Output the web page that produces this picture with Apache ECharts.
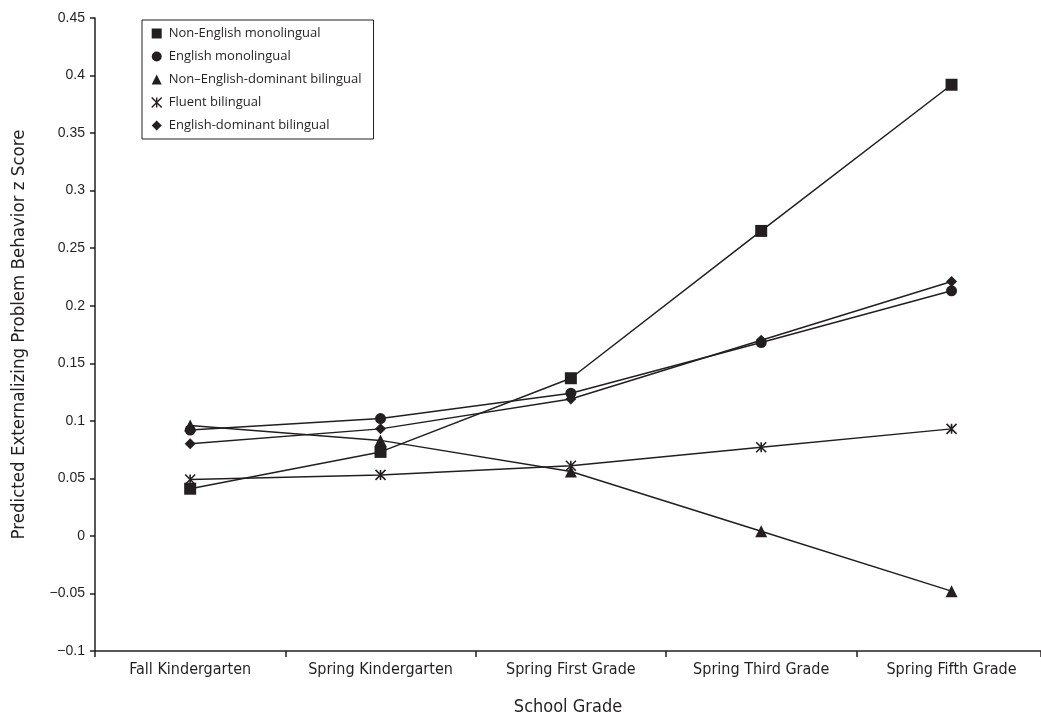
<!DOCTYPE html>
<html>
<head>
<meta charset="utf-8">
<script src="https://cdn.jsdelivr.net/npm/echarts@6/dist/echarts.min.js"></script>
<style>html,body{margin:0;padding:0;background:#fff}#c{width:1041px;height:721px}</style>
</head>
<body>
<div id="c"></div>
<script>
const categories = ['Fall Kindergarten', 'Spring Kindergarten', 'Spring First Grade', 'Spring Third Grade', 'Spring Fifth Grade'];
const seriesNames = ['Non-English monolingual', 'English monolingual', 'Non\u2013English-dominant bilingual', 'Fluent bilingual', 'English-dominant bilingual'];
const nonEnglishMono = [0.041, 0.073, 0.137, 0.265, 0.392];
const englishMono = [0.092, 0.102, 0.124, 0.168, 0.213];
const nonEnglishDomBi = [0.096, 0.083, 0.056, 0.004, -0.048];
const fluentBi = [0.049, 0.053, 0.061, 0.077, 0.093];
const englishDomBi = [0.080, 0.093, 0.119, 0.170, 0.221];
const yTicks = [-0.1, -0.05, 0, 0.05, 0.1, 0.15, 0.2, 0.25, 0.3, 0.35, 0.4, 0.45];

const INK = '#231f20';
const ASTER = 'path://M0,0L10,10M10,0L0,10M5,0L5,10';
const symbols = ['rect', 'circle', 'triangle', ASTER, 'diamond'];
const sizes = [12, 11, 12, 10, 11];
const values = [nonEnglishMono, englishMono, nonEnglishDomBi, fluentBi, englishDomBi];
const NARROW = '"Liberation Sans Narrow", "DejaVu Sans Condensed", sans-serif';
const X_MIN = -0.5, X_MAX = 4.47;

const chart = echarts.init(document.getElementById('c'), null, {renderer: 'canvas'});
const series = values.map((v, i) => ({
  name: seriesNames[i],
  type: 'line',
  xAxisIndex: 0,
  data: v.map((y, k) => [k, y]),
  symbol: symbols[i],
  symbolSize: sizes[i],
  showAllSymbol: true,
  lineStyle: {color: INK, width: 1.5},
  itemStyle: symbols[i] === ASTER
    ? {color: INK, borderColor: INK, borderWidth: 1.6}
    : {color: INK, borderWidth: 0},
  emphasis: {disabled: true},
  animation: false,
  z: 3
}));

chart.setOption({
  animation: false,
  backgroundColor: '#fff',
  grid: {left: 95, right: 0, top: 18, bottom: 68, containLabel: false},
  legend: {
    orient: 'vertical',
    left: 142,
    top: 20,
    padding: [7, 12, 7, 9],
    itemGap: 10,
    itemWidth: 10,
    itemHeight: 10,
    borderColor: INK,
    borderWidth: 1,
    textStyle: {fontFamily: '"Open Sans", "Liberation Sans", sans-serif', fontSize: 13, color: INK, padding: [0, 0, 0, 2]},
    data: seriesNames.map((n, i) => ({
      name: n,
      icon: symbols[i],
      itemStyle: symbols[i] === ASTER ? {color: INK, borderColor: INK, borderWidth: 1.4} : {color: INK, borderWidth: 0}
    }))
  },
  xAxis: [{
    type: 'value',
    min: X_MIN,
    max: X_MAX,
    interval: 1,
    name: 'School Grade',
    nameLocation: 'middle',
    nameGap: 47,
    nameTextStyle: {fontFamily: NARROW, fontSize: 18, color: INK},
    axisLine: {onZero: false, lineStyle: {color: INK, width: 1.5}},
    axisTick: {show: true, length: 6, lineStyle: {color: INK, width: 1.5}},
    axisLabel: {show: false},
    splitLine: {show: false}
  }, {
    type: 'value',
    position: 'bottom',
    min: X_MIN,
    max: X_MAX,
    interval: 0.5,
    axisLine: {show: false},
    axisTick: {show: false},
    axisLabel: {
      fontFamily: NARROW, fontSize: 16, color: INK, margin: 11,
      showMinLabel: false, showMaxLabel: false,
      formatter: function (v) {
        const k = Math.round(v);
        return Math.abs(v - k) < 1e-6 && categories[k] ? categories[k] : '';
      }
    },
    splitLine: {show: false}
  }],
  yAxis: {
    type: 'value',
    min: -0.1,
    max: 0.45,
    interval: 0.05,
    name: 'Predicted Externalizing Problem Behavior z Score',
    nameLocation: 'middle',
    nameGap: 66,
    nameTextStyle: {fontFamily: NARROW, fontSize: 18.5, color: INK},
    axisLine: {show: true, onZero: false, lineStyle: {color: INK, width: 1.5}},
    axisTick: {show: true, length: 5, lineStyle: {color: INK, width: 1.5}},
    axisLabel: {
      fontFamily: '"Liberation Sans", sans-serif', fontSize: 14, color: INK, margin: 10,
      formatter: function (v) {
        const t = yTicks.find(x => Math.abs(x - v) < 1e-9);
        if (t === undefined) return '';
        return (t < 0 ? '\u2212' : '') + String(Math.abs(t));
      }
    },
    splitLine: {show: false}
  },
  series: series
});
</script>
</body>
</html>
